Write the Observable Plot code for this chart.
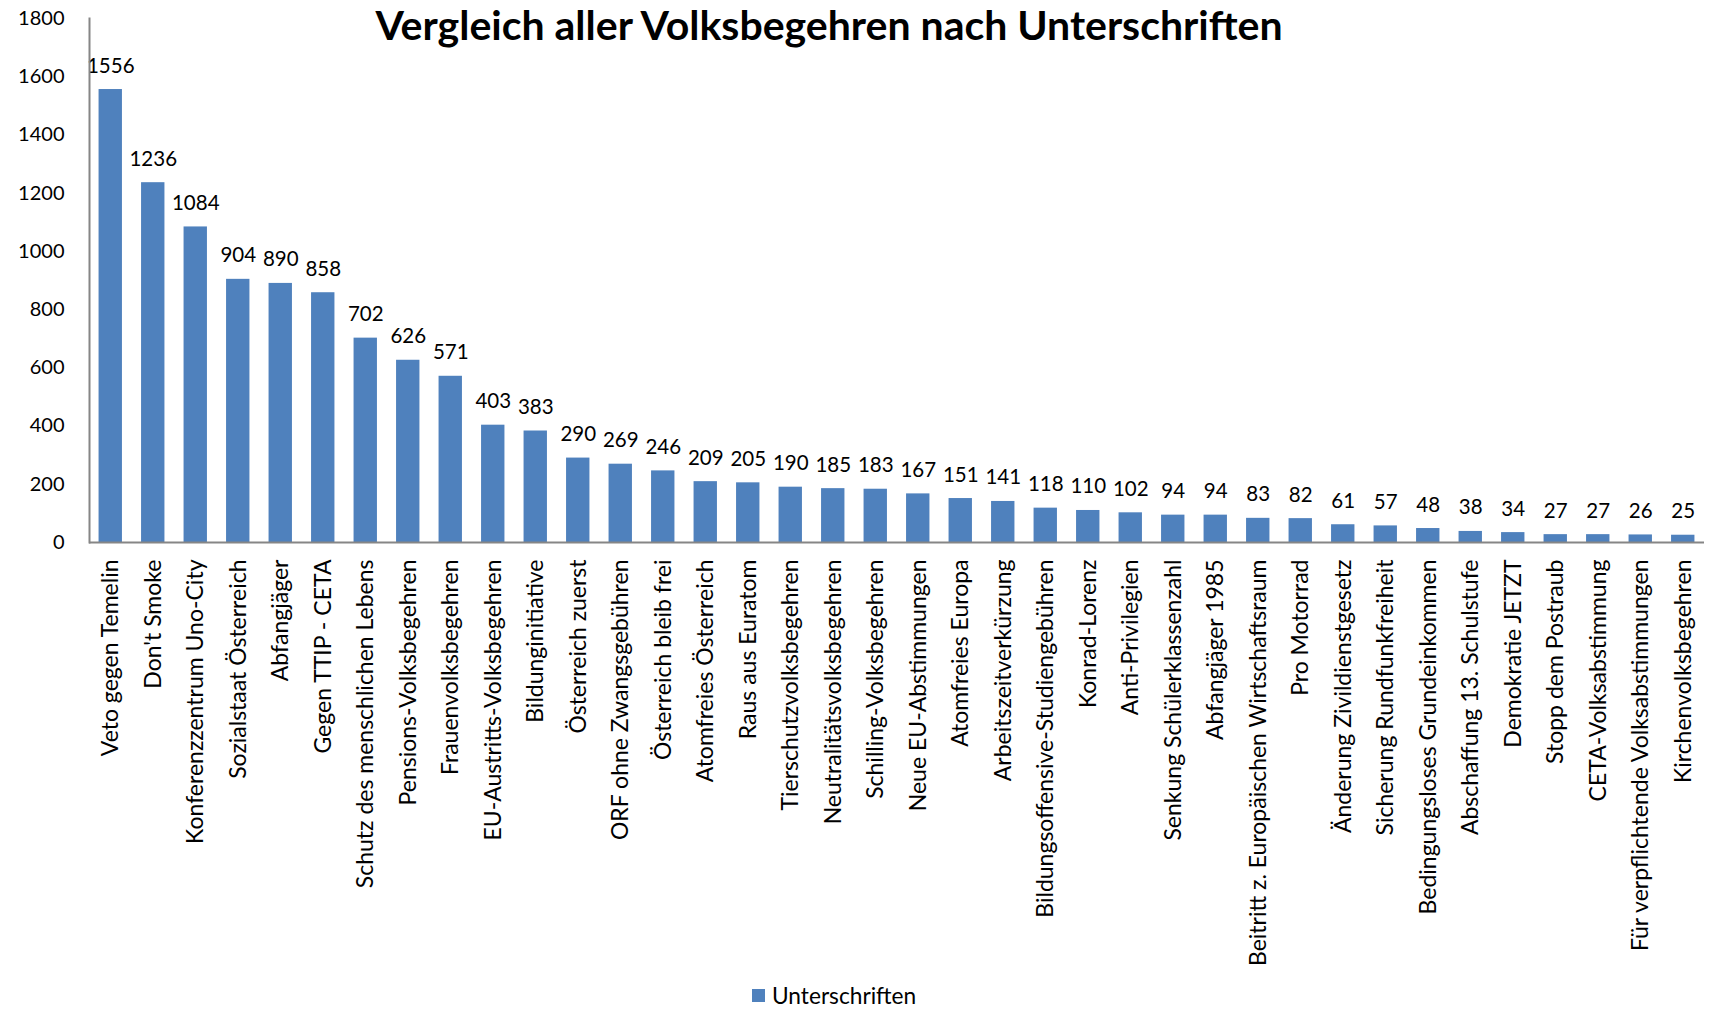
<!DOCTYPE html>
<html>
<head>
<meta charset="utf-8">
<script src="https://cdn.jsdelivr.net/npm/d3@7"></script>
<script src="https://cdn.jsdelivr.net/npm/@observablehq/plot@0.6"></script>
<style>
  body { margin: 0; background: #fff; }
  #wrap { position: relative; width: 1710px; height: 1010px; font-family: Lato, sans-serif; color: #000; }
  #chart { position: absolute; left: 0; top: 0; }
  #title { position: absolute; left: 0; width: 1658px; top: 4px; line-height: 1; text-align: center; font-weight: bold; font-size: 41px; white-space: nowrap; }
  #legend { position: absolute; left: 752px; top: 982px; font-size: 22.7px; display: flex; align-items: center; white-space: nowrap; }
  #legend .sw { width: 13px; height: 13px; background: #4F81BD; margin-right: 7px; }
</style>
</head>
<body>
<div id="wrap">
  <div id="chart"></div>
  <div id="title">Vergleich aller Volksbegehren nach Unterschriften</div>
  <div id="legend"><span class="sw"></span><span>Unterschriften</span></div>
</div>
<script>
const categories = [
  "Veto gegen Temelin", "Don't Smoke", "Konferenzzentrum Uno-City", "Sozialstaat Österreich",
  "Abfangjäger", "Gegen TTIP - CETA", "Schutz des menschlichen Lebens", "Pensions-Volksbegehren",
  "Frauenvolksbegehren", "EU-Austritts-Volksbegehren", "Bildunginitiative", "Österreich zuerst",
  "ORF ohne Zwangsgebühren", "Österreich bleib frei", "Atomfreies Österreich", "Raus aus Euratom",
  "Tierschutzvolksbegehren", "Neutralitätsvolksbegehren", "Schilling-Volksbegehren", "Neue EU-Abstimmungen",
  "Atomfreies Europa", "Arbeitszeitverkürzung", "Bildungsoffensive-Studiengebühren", "Konrad-Lorenz",
  "Anti-Privilegien", "Senkung Schülerklassenzahl", "Abfangjäger 1985", "Beitritt z. Europäischen Wirtschaftsraum",
  "Pro Motorrad", "Änderung Zivildienstgesetz", "Sicherung Rundfunkfreiheit", "Bedingungsloses Grundeinkommen",
  "Abschaffung 13. Schulstufe", "Demokratie JETZT", "Stopp dem Postraub", "CETA-Volksabstimmung",
  "Für verpflichtende Volksabstimmungen", "Kirchenvolksbegehren"
];
const unterschriften = [
  1556, 1236, 1084, 904, 890, 858, 702, 626, 571, 403, 383, 290, 269, 246, 209, 205,
  190, 185, 183, 167, 151, 141, 118, 110, 102, 94, 94, 83, 82, 61, 57, 48, 38, 34, 27, 27, 26, 25
];
const yTicks = [0, 200, 400, 600, 800, 1000, 1200, 1400, 1600, 1800];

const data = categories.map((c, i) => ({name: c, value: unterschriften[i]}));

const chart = Plot.plot({
  width: 1710,
  height: 980,
  marginLeft: 89,
  marginRight: 6,
  marginTop: 18,
  marginBottom: 438,
  style: {fontFamily: "Lato, sans-serif", fontSize: "20px", color: "#000", background: "#fff"},
  x: {domain: categories, paddingInner: 0.45, paddingOuter: 0.225, round: false, axis: null},
  y: {domain: [0, 1800], axis: null},
  marks: [
    Plot.barY(data, {x: "name", y: "value", fill: "#4F81BD"}),
    Plot.text(data, {x: "name", y: "value", text: d => String(d.value), lineAnchor: "bottom", dy: -17, fontSize: 20.5, fill: "#000"}),
    Plot.axisY({ticks: yTicks, tickFormat: d => String(d), tickSize: 0, tickPadding: 25, fontSize: 20, label: null}),
    Plot.axisX({tickRotate: -90, tickSize: 0, tickPadding: 17, fontSize: 23, label: null}),
    Plot.frame({anchor: "left", stroke: "#868686", strokeWidth: 2}),
    Plot.ruleY([0], {stroke: "#868686", strokeWidth: 2})
  ]
});
document.getElementById("chart").appendChild(chart);
</script>
</body>
</html>
